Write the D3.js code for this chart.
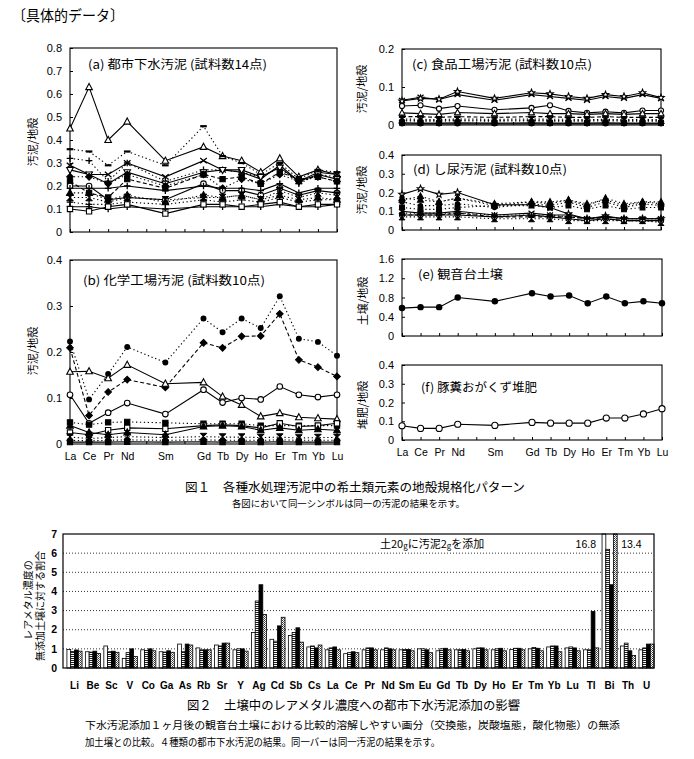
<!DOCTYPE html>
<html><head><meta charset="utf-8">
<script src="https://cdn.jsdelivr.net/npm/d3@7"></script>
<style>
body{margin:0;background:#fff}
svg{display:block}
text{font-family:"Liberation Sans","Noto Sans CJK JP",sans-serif;fill:#000}
.jp{font-family:"Noto Sans CJK JP",sans-serif}
</style>
</head><body>
<svg id="c" width="694" height="759"></svg>
<script>
// ---------- DATA ----------
const reeAxis = ["La","Ce","Pr","Nd","Pm","Sm","Eu","Gd","Tb","Dy","Ho","Er","Tm","Yb","Lu"];
const reeLabels = ["La","Ce","Pr","Nd","Sm","Gd","Tb","Dy","Ho","Er","Tm","Yb","Lu"];

// (a) municipal sewage sludge, 14 samples
const aValues = [
  [0.45,0.63,0.40,0.48,0.31,0.37,0.33,0.31,0.26,0.32,0.24,0.27,0.25],
  [0.36,0.35,0.29,0.35,0.29,0.46,0.33,0.30,0.25,0.30,0.23,0.27,0.26],
  [0.32,0.31,0.22,0.30,0.22,0.27,0.27,0.26,0.24,0.28,0.21,0.25,0.24],
  [0.29,0.25,0.25,0.30,0.24,0.31,0.27,0.26,0.23,0.29,0.22,0.26,0.25],
  [0.27,0.25,0.21,0.26,0.21,0.26,0.27,0.27,0.24,0.28,0.22,0.25,0.23],
  [0.24,0.24,0.21,0.25,0.20,0.25,0.19,0.23,0.21,0.25,0.22,0.24,0.22],
  [0.22,0.17,0.15,0.23,0.19,0.25,0.23,0.24,0.21,0.26,0.23,0.24,0.22],
  [0.20,0.20,0.14,0.15,0.14,0.21,0.18,0.18,0.16,0.19,0.16,0.18,0.17],
  [0.17,0.17,0.14,0.16,0.13,0.16,0.15,0.16,0.14,0.16,0.14,0.15,0.14],
  [0.19,0.19,0.19,0.20,0.18,0.20,0.19,0.19,0.18,0.21,0.17,0.19,0.19],
  [0.15,0.15,0.13,0.15,0.14,0.15,0.15,0.16,0.14,0.18,0.15,0.17,0.16],
  [0.13,0.12,0.12,0.13,0.12,0.14,0.13,0.14,0.13,0.15,0.13,0.14,0.14],
  [0.11,0.11,0.10,0.11,0.10,0.11,0.11,0.11,0.11,0.12,0.11,0.11,0.12],
  [0.10,0.09,0.11,0.12,0.08,0.12,0.12,0.11,0.12,0.13,0.11,0.12,0.12]
];
// (b) chemical plant sludge, 10 samples
const bValues = [
  [0.223,0.097,0.152,0.211,0.177,0.273,0.243,0.273,0.252,0.321,0.229,0.222,0.192],
  [0.209,0.062,0.113,0.140,0.123,0.220,0.209,0.234,0.235,0.283,0.183,0.167,0.147],
  [0.157,0.158,0.143,0.172,0.131,0.134,0.103,0.085,0.060,0.067,0.058,0.056,0.054],
  [0.107,0.045,0.068,0.089,0.065,0.118,0.090,0.100,0.097,0.125,0.107,0.102,0.107],
  [0.047,0.042,0.047,0.048,0.046,0.044,0.044,0.044,0.040,0.040,0.040,0.040,0.040],
  [0.025,0.020,0.030,0.035,0.033,0.040,0.042,0.040,0.035,0.045,0.038,0.040,0.045],
  [0.040,0.025,0.020,0.025,0.020,0.038,0.040,0.038,0.030,0.035,0.030,0.032,0.030],
  [0.015,0.012,0.014,0.016,0.014,0.016,0.015,0.015,0.014,0.015,0.013,0.014,0.014],
  [0.008,0.007,0.008,0.009,0.008,0.009,0.008,0.008,0.008,0.009,0.008,0.008,0.008],
  [0.004,0.004,0.004,0.005,0.004,0.005,0.004,0.005,0.004,0.005,0.004,0.004,0.004]
];
// (c) food factory sludge, 10 samples
const cValues = [
  [0.065,0.073,0.067,0.080,0.065,0.080,0.075,0.070,0.065,0.075,0.070,0.080,0.070],
  [0.063,0.070,0.068,0.088,0.070,0.085,0.082,0.075,0.070,0.080,0.075,0.085,0.072],
  [0.050,0.052,0.043,0.050,0.040,0.045,0.052,0.037,0.032,0.035,0.032,0.038,0.038],
  [0.032,0.030,0.028,0.033,0.030,0.033,0.030,0.030,0.028,0.030,0.028,0.030,0.030],
  [0.022,0.022,0.020,0.022,0.020,0.022,0.022,0.020,0.020,0.022,0.020,0.020,0.020],
  [0.016,0.015,0.014,0.016,0.015,0.016,0.015,0.015,0.014,0.015,0.014,0.015,0.014],
  [0.011,0.010,0.010,0.011,0.010,0.011,0.010,0.010,0.010,0.011,0.010,0.010,0.010],
  [0.006,0.005,0.005,0.006,0.005,0.006,0.005,0.005,0.005,0.006,0.005,0.005,0.005],
  [0.013,0.012,0.012,0.013,0.012,0.013,0.012,0.012,0.012,0.013,0.012,0.012,0.012],
  [0.003,0.003,0.003,0.003,0.003,0.003,0.003,0.003,0.003,0.003,0.003,0.003,0.003]
];
// (d) night soil sludge, 10 samples
const dValues = [
  [0.19,0.22,0.19,0.20,0.135,0.135,0.12,0.085,0.06,0.075,0.06,0.06,0.06],
  [0.17,0.16,0.15,0.17,0.13,0.15,0.15,0.16,0.14,0.16,0.13,0.15,0.14],
  [0.15,0.13,0.13,0.14,0.12,0.14,0.13,0.15,0.12,0.15,0.12,0.14,0.13],
  [0.12,0.11,0.11,0.12,0.13,0.13,0.12,0.13,0.11,0.13,0.11,0.12,0.12],
  [0.10,0.09,0.09,0.10,0.08,0.09,0.08,0.08,0.06,0.07,0.06,0.06,0.06],
  [0.08,0.08,0.08,0.09,0.07,0.07,0.07,0.07,0.06,0.06,0.05,0.05,0.05],
  [0.08,0.08,0.08,0.08,0.07,0.08,0.07,0.06,0.05,0.06,0.05,0.05,0.05],
  [0.07,0.07,0.07,0.07,0.06,0.06,0.06,0.05,0.05,0.05,0.05,0.05,0.04],
  [0.09,0.09,0.09,0.09,0.08,0.08,0.08,0.07,0.06,0.07,0.06,0.06,0.06],
  [0.16,0.18,0.15,0.17,0.14,0.15,0.14,0.16,0.13,0.17,0.14,0.15,0.15]
];
// (e) Kannondai soil
const eValues = [[0.58,0.60,0.60,0.80,0.72,0.89,0.82,0.84,0.68,0.82,0.68,0.72,0.68]];
// (f) pig manure sawdust compost
const fValues = [[0.076,0.062,0.062,0.084,0.078,0.094,0.090,0.090,0.090,0.117,0.117,0.139,0.167]];

// Fig 2
const metals = ["Li","Be","Sc","V","Co","Ga","As","Rb","Sr","Y","Ag","Cd","Sb","Cs","La","Ce","Pr","Nd","Sm","Eu","Gd","Tb","Dy","Ho","Er","Tm","Yb","Lu","Tl","Bi","Th","U"];
const sludge1 = [0.97,0.85,1.15,0.50,0.95,0.85,1.25,1.05,1.20,0.95,1.85,1.50,1.70,1.10,0.95,0.75,0.95,0.95,0.95,1.00,0.90,0.95,1.00,0.95,0.97,1.00,1.10,1.05,0.95,16.8,1.15,0.95];
const sludge2 = [0.86,0.83,0.85,0.80,0.92,0.83,0.85,0.95,1.15,1.00,3.50,1.40,1.85,1.15,1.05,0.80,1.05,1.05,0.97,1.00,1.00,0.95,1.05,1.00,1.03,1.07,1.15,1.10,0.95,6.2,1.30,1.05];
const sludge3 = [0.94,0.88,0.88,1.00,1.00,0.90,1.25,0.95,1.30,1.00,4.35,2.20,2.10,1.05,1.10,0.85,1.05,1.00,0.97,0.95,1.03,0.97,1.05,1.03,1.03,1.03,1.15,1.05,2.95,4.35,0.90,1.25];
const sludge4 = [0.88,0.76,0.82,0.60,0.90,0.82,1.20,0.95,1.30,0.88,2.80,2.65,1.35,1.20,0.95,0.80,0.95,0.95,0.90,0.80,0.95,0.90,0.95,0.90,0.95,0.90,0.85,0.90,1.05,13.4,0.65,1.25];
const fig2Ticks = [0,1,2,3,4,5,6,7];

// ---------- STYLES ----------
const aMarkers = ["tri","dash","plus","x","triD","diaF","sqF","circ","triF","plus","bow","plus","plus","sq"];
const aLines   = ["solid","dot","dot","solid","solid","dot","dash","solid","dot","solid","dot","dot","solid","solid"];
const bMarkers = ["circF","diaF","tri","circ","sqF","sq","triF","bow","circF","sqF"];
const bLines   = ["dot","dash","solid","solid","dot","solid","solid","dot","dot","solid"];
const cMarkers = ["x","star","circ","tri","dash","x","triF","sqF","plus","circF"];
const cLines   = ["solid","solid","solid","solid","dash","dot","dot","solid","dot","solid"];
const dMarkers = ["star","triF","circF","sqF","x","dash","circ","bow","plus","triF"];
const dLines   = ["solid","dot","dot","dot","solid","dash","solid","dot","dot","dot"];

const svg = d3.select("#c");
const defs = svg.append("defs");
const p1 = defs.append("pattern").attr("id","hatch1").attr("patternUnits","userSpaceOnUse").attr("width",4).attr("height",2);
p1.append("rect").attr("width",4).attr("height",2).attr("fill","#fff");
p1.append("rect").attr("width",4).attr("height",1).attr("fill","#222");
const p2 = defs.append("pattern").attr("id","hatch2").attr("patternUnits","userSpaceOnUse").attr("width",2).attr("height",2);
p2.append("rect").attr("width",2).attr("height",2).attr("fill","#fff");
p2.append("rect").attr("width",1).attr("height",1).attr("fill","#333");
p2.append("rect").attr("x",1).attr("y",1).attr("width",1).attr("height",1).attr("fill","#666");

// header
svg.append("text").attr("class","jp").attr("x",12).attr("y",21).attr("font-size",15)
  .attr("textLength",112).attr("lengthAdjust","spacingAndGlyphs").text("〔具体的データ〕");

function marker(g, type, cx, cy, s) {
  const t = `translate(${cx},${cy})`;
  const add = (d, fill, sw) => g.append("path").attr("d", d).attr("transform", t)
      .attr("fill", fill).attr("stroke", "#000").attr("stroke-width", sw || 1.1);
  switch (type) {
    case "tri":  add(`M0,${-s*1.1}L${s},${s*0.75}L${-s},${s*0.75}Z`, "#fff"); break;
    case "triF": add(`M0,${-s*1.1}L${s},${s*0.75}L${-s},${s*0.75}Z`, "#000"); break;
    case "triD": add(`M0,${s*1.1}L${s},${-s*0.75}L${-s},${-s*0.75}Z`, "#fff"); break;
    case "circ": g.append("circle").attr("cx",cx).attr("cy",cy).attr("r",s*0.85).attr("fill","#fff").attr("stroke","#000").attr("stroke-width",1.1); break;
    case "circF": g.append("circle").attr("cx",cx).attr("cy",cy).attr("r",s*0.9).attr("fill","#000"); break;
    case "sq":  add(`M${-s*0.8},${-s*0.8}h${s*1.6}v${s*1.6}h${-s*1.6}Z`, "#fff"); break;
    case "sqF": add(`M${-s*0.8},${-s*0.8}h${s*1.6}v${s*1.6}h${-s*1.6}Z`, "#000"); break;
    case "diaF": add(`M0,${-s}L${s},0L0,${s}L${-s},0Z`, "#000"); break;
    case "x":   add(`M${-s},${-s*0.8}L${s},${s*0.8}M${s},${-s*0.8}L${-s},${s*0.8}`, "none", 1.3); break;
    case "plus": add(`M${-s},0H${s}M0,${-s}V${s}`, "none", 1.3); break;
    case "dash": add(`M${-s},0H${s}`, "none", 2.2); break;
    case "bow": add(`M${-s},${-s}H${s}L${-s},${s}H${s}Z`, "#000", 1); break;
    case "star": {
      let d = "";
      for (let i = 0; i < 10; i++) {
        const r = i % 2 ? s*0.5 : s*1.15, a = -Math.PI/2 + i*Math.PI/5;
        d += (i ? "L" : "M") + (r*Math.cos(a)).toFixed(2) + "," + (r*Math.sin(a)).toFixed(2);
      }
      add(d + "Z", "#fff"); break;
    }
  }
}

const dashOf = { solid: null, dot: "1.3,2.6", dash: "4,2.5" };

function panel(cfg, values, markers, lines) {
  const x = d3.scalePoint().domain(reeAxis).range([cfg.x0, cfg.x1]);
  const y = d3.scaleLinear().domain([0, cfg.max]).range([cfg.y0, cfg.y1]);
  const g = svg.append("g");
  g.append("rect").attr("x",cfg.x0).attr("y",cfg.y1).attr("width",cfg.x1-cfg.x0).attr("height",cfg.y0-cfg.y1)
    .attr("fill","none").attr("stroke","#000").attr("stroke-width",1.1);
  const ya = d3.axisLeft(y).tickValues(cfg.ticks).tickSizeInner(-3).tickSizeOuter(0).tickPadding(8)
     .tickFormat(d => d === 0 ? "0" : d3.format(cfg.fmt)(d));
  const yg = g.append("g").attr("transform",`translate(${cfg.x0},0)`).call(ya);
  yg.select(".domain").remove();
  yg.selectAll("text").attr("font-size",11).attr("font-family","Liberation Sans, sans-serif");
  yg.selectAll("line").attr("stroke","#000");
  const xa = d3.axisBottom(x).tickSizeInner(-3).tickSizeOuter(0).tickPadding(9)
     .tickFormat(d => (cfg.xlabels && reeLabels.includes(d)) ? d : "");
  const xg = g.append("g").attr("transform",`translate(0,${cfg.y0})`).call(xa);
  xg.select(".domain").remove();
  xg.selectAll("text").attr("font-size",10.5).attr("font-family","Liberation Sans, sans-serif").attr("dy","0.71em");
  xg.selectAll("line").attr("stroke","#000");
  const line = d3.line().x((d,i) => x(reeLabels[i])).y(d => y(d));
  values.forEach((vals, k) => {
    g.append("path").datum(vals).attr("d", line).attr("fill","none").attr("stroke","#000")
      .attr("stroke-width", 1.1).attr("stroke-dasharray", dashOf[lines[k]]);
  });
  values.forEach((vals, k) => {
    vals.forEach((v, i) => marker(g, markers[k], x(reeLabels[i]), y(v), cfg.ms));
  });
  g.append("text").attr("class","jp").attr("x",cfg.tx).attr("y",cfg.ty).attr("font-size",12)
    .attr("textLength",cfg.tw).attr("lengthAdjust","spacingAndGlyphs").text(cfg.title);
  g.append("text").attr("class","jp").attr("font-size",11).attr("text-anchor","middle")
    .attr("transform",`translate(${cfg.ylx},${cfg.yly}) rotate(-90)`).attr("dy","0.35em").text(cfg.ytitle);
}

const fmt1 = ".1f";
panel({x0:70,x1:337,y0:232,y1:48,max:0.8,ticks:[0,.1,.2,.3,.4,.5,.6,.7,.8],fmt:fmt1,ms:3.3,
  title:"(a) 都市下水汚泥 (試料数14点)",tx:88,ty:69,tw:179,ylx:33,yly:142,ytitle:"汚泥/地殻"},
  aValues, aMarkers, aLines);
panel({x0:70,x1:337,y0:444,y1:260,max:0.4,ticks:[0,.1,.2,.3,.4],fmt:fmt1,ms:3.3,xlabels:true,
  title:"(b) 化学工場汚泥 (試料数10点)",tx:83,ty:285,tw:182,ylx:33,yly:351,ytitle:"汚泥/地殻"},
  bValues, bMarkers, bLines);
panel({x0:402,x1:661,y0:125,y1:49,max:0.2,ticks:[0,.1,.2],fmt:fmt1,ms:3,
  title:"(c) 食品工場汚泥 (試料数10点)",tx:412,ty:69,tw:180,ylx:362,yly:89,ytitle:"汚泥/地殻"},
  cValues, cMarkers, cLines);
panel({x0:402,x1:661,y0:230,y1:155,max:0.4,ticks:[0,.1,.2,.3,.4],fmt:fmt1,ms:3,
  title:"(d) し尿汚泥 (試料数10点)",tx:413,ty:174,tw:154,ylx:362,yly:190,ytitle:"汚泥/地殻"},
  dValues, dMarkers, dLines);
panel({x0:402,x1:662,y0:336,y1:259,max:1.6,ticks:[0,.4,.8,1.2,1.6],fmt:fmt1,ms:3.6,
  title:"(e) 観音台土壌",tx:418,ty:279,tw:85,ylx:363,yly:301,ytitle:"土壌/地殻"},
  eValues, ["circF"], ["solid"]);
panel({x0:402,x1:662,y0:440,y1:365,max:0.4,ticks:[0,.1,.2,.3,.4],fmt:fmt1,ms:3.6,xlabels:true,
  title:"(f) 豚糞おがくず堆肥",tx:421,ty:392,tw:116,ylx:363,yly:405,ytitle:"堆肥/地殻"},
  fValues, ["circ"], ["solid"]);

// Fig 1 caption
svg.append("text").attr("class","jp").attr("x",185).attr("y",492).attr("font-size",12.5)
  .attr("textLength",340).attr("lengthAdjust","spacingAndGlyphs").text("図１　各種水処理汚泥中の希土類元素の地殻規格化パターン");
svg.append("text").attr("class","jp").attr("x",232).attr("y",507).attr("font-size",9.5)
  .attr("textLength",233).attr("lengthAdjust","spacingAndGlyphs").text("各図において同一シンボルは同一の汚泥の結果を示す。");

// ---------- Fig 2 ----------
const X0 = 63, X1 = 654, Y0 = 668, Y1 = 534;
const xb = d3.scaleBand().domain(metals).range([66, 655]).paddingInner(0.18).paddingOuter(0.05);
const xs = d3.scaleBand().domain([0,1,2,3]).range([0, xb.bandwidth()]);
const yb = d3.scaleLinear().domain([0,7]).range([Y0, Y1]);
const g2 = svg.append("g");
g2.selectAll(".grid").data(fig2Ticks.filter(t => t > 0 && t < 7)).join("line")
  .attr("x1",X0).attr("x2",X1).attr("y1",d=>yb(d)).attr("y2",d=>yb(d))
  .attr("stroke","#000").attr("stroke-width",0.8).attr("stroke-dasharray","1,2");
g2.selectAll(".yl").data(fig2Ticks).join("text").attr("x",57).attr("y",d=>yb(d)).attr("dy","0.35em")
  .attr("text-anchor","end").attr("font-size",10.5).attr("font-weight","bold").text(d=>d);
const fills = ["#fff","url(#hatch1)","#000","url(#hatch2)"];
[sludge1, sludge2, sludge3, sludge4].forEach((vals, k) => {
  g2.selectAll(".b"+k).data(vals).join("rect")
    .attr("x",(d,i)=>xb(metals[i]) + xs(k)).attr("width",xs.bandwidth())
    .attr("y",d=>yb(Math.min(d,7))).attr("height",d=>Y0 - yb(Math.min(d,7)))
    .attr("fill",fills[k]).attr("stroke","#000").attr("stroke-width",0.8);
});
g2.append("rect").attr("x",X0).attr("y",Y1).attr("width",X1-X0).attr("height",Y0-Y1)
  .attr("fill","none").attr("stroke","#000").attr("stroke-width",1.2);
g2.selectAll(".xl").data(metals).join("text").attr("x",d=>xb(d)+xb.bandwidth()/2).attr("y",689)
  .attr("text-anchor","middle").attr("font-size",10).attr("font-weight","bold").text(d=>d);
const ann = g2.append("text").attr("class","jp").attr("x",380).attr("y",548).attr("font-size",11);
ann.append("tspan").text("土20");
ann.append("tspan").attr("font-size",8).attr("dy",1).text("g");
ann.append("tspan").attr("dy",-1).text("に汚泥2");
ann.append("tspan").attr("font-size",8).attr("dy",1).text("g");
ann.append("tspan").attr("dy",-1).text("を添加");
const biIdx = metals.indexOf("Bi");
g2.append("text").attr("x",xb("Bi") + xs(0) - 6).attr("y",548).attr("text-anchor","end").attr("font-size",10.5).text(sludge1[biIdx]);
g2.append("text").attr("x",xb("Bi") + xs(3) + xs.bandwidth() + 4).attr("y",548).attr("font-size",10.5).text(sludge4[biIdx]);
g2.append("text").attr("class","jp").attr("font-size",10).attr("text-anchor","middle")
  .attr("transform","translate(28,600) rotate(-90)").attr("dy","0.35em").text("レアメタル濃度の");
g2.append("text").attr("class","jp").attr("font-size",10).attr("text-anchor","middle")
  .attr("transform","translate(40,606) rotate(-90)").attr("dy","0.35em").text("無添加土壌に対する割合");

// Fig 2 caption
svg.append("text").attr("class","jp").attr("x",187).attr("y",710).attr("font-size",12.5)
  .attr("textLength",333).attr("lengthAdjust","spacingAndGlyphs").text("図２　土壌中のレアメタル濃度への都市下水汚泥添加の影響");
svg.append("text").attr("class","jp").attr("x",85).attr("y",729).attr("font-size",10.5)
  .attr("textLength",535).attr("lengthAdjust","spacingAndGlyphs").text("下水汚泥添加１ヶ月後の観音台土壌における比較的溶解しやすい画分（交換態，炭酸塩態，酸化物態）の無添");
svg.append("text").attr("class","jp").attr("x",85).attr("y",746).attr("font-size",10.5)
  .attr("textLength",355).attr("lengthAdjust","spacingAndGlyphs").text("加土壌との比較。４種類の都市下水汚泥の結果。同一バーは同一汚泥の結果を示す。");
</script>
</body></html>
